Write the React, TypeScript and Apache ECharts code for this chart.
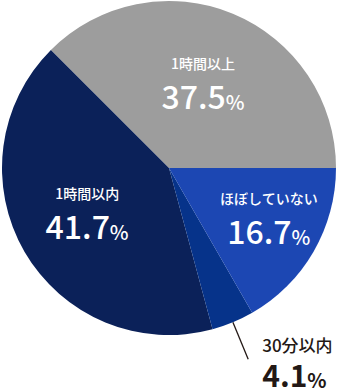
import React, { useEffect, useRef } from "react";
import * as echarts from "echarts";

const categories = ["1時間以上", "1時間以内", "30分以内", "ほぼしていない"];
const values = [37.5, 41.7, 4.1, 16.7];
const colors = ["#9d9d9d", "#0b2159", "#06338a", "#1c47b3"];
const outsideIndex = 2;
const labelShifts = [
  [1, -6],
  [-7, 1],
  [0, 0],
  [25, 6],
];

export default function App() {
  const ref = useRef<HTMLDivElement>(null);
  useEffect(() => {
    const chart = echarts.init(ref.current!, null, { renderer: "svg" });
    const font = '"Noto Sans CJK JP", "Noto Sans", sans-serif';
    const insideRich = {
      n: { fontSize: 14, lineHeight: 20, color: "#fff", fontFamily: font, fontWeight: 500 },
      v: { fontSize: 32, lineHeight: 38, color: "#fff", fontFamily: font, fontWeight: 500, verticalAlign: "bottom" },
      p: { fontSize: 20, lineHeight: 29, color: "#fff", fontFamily: font, fontWeight: 500, verticalAlign: "bottom" },
    };
    const outsideRich = {
      n: { fontSize: 17, lineHeight: 30, color: "#231815", fontFamily: font, fontWeight: 500 },
      v: { fontSize: 30, lineHeight: 30, color: "#231815", fontFamily: font, fontWeight: 700, verticalAlign: "bottom" },
      p: { fontSize: 20, lineHeight: 21, color: "#231815", fontFamily: font, fontWeight: 700, verticalAlign: "bottom" },
    };
    const data = categories.map((name, i) => {
      const outside = i === outsideIndex;
      return {
        name,
        value: values[i],
        itemStyle: { color: colors[i] },
        label: outside
          ? { show: true, position: "outside", rich: outsideRich, distanceToLabelLine: 14, align: "left" }
          : { show: true, position: "inside", rich: insideRich },
        labelLine: outside
          ? { show: true, length: 40, length2: 0, lineStyle: { color: "#231815", width: 1.3 } }
          : { show: false },
      };
    });
    chart.setOption({
      animation: false,
      series: [
        {
          type: "pie",
          center: [169, 168],
          radius: [0, 167],
          startAngle: 0,
          clockwise: false,
          avoidLabelOverlap: false,
          silent: true,
          itemStyle: { borderWidth: 0 },
          label: {
            formatter: (p: any) => `{n|${p.name}}\n{v|${p.value}}{p|%}`,
          },
          labelLayout: (params: any) => {
            const s = labelShifts[params.dataIndex];
            return s[0] || s[1] ? { dx: s[0], dy: s[1] } : {};
          },
          data,
        },
      ],
    });
    return () => chart.dispose();
  }, []);
  return (
    <div
      ref={ref}
      style={{ position: "fixed", left: 0, top: 0, width: 338, height: 390, background: "#fff" }}
    />
  );
}
